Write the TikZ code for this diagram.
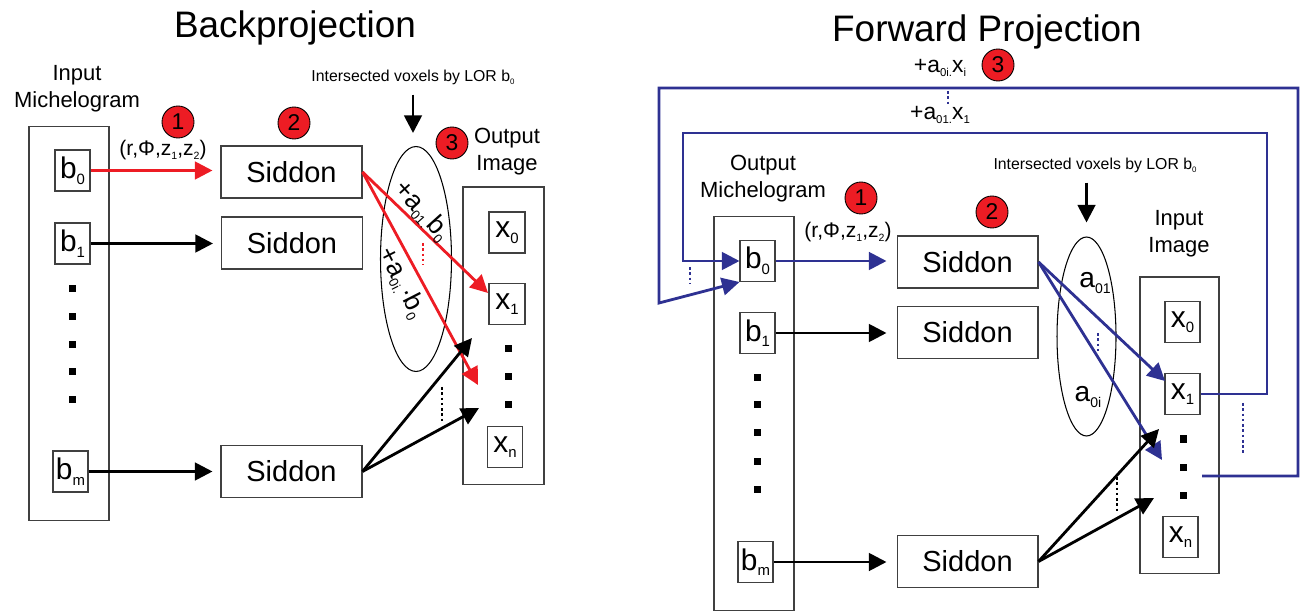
\documentclass[tikz,border=0pt]{standalone}
\usepackage{fontspec}
\setmainfont{Liberation Sans}
\usepackage{graphicx}
\usetikzlibrary{shapes.geometric,arrows.meta,positioning}

\definecolor{numred}{HTML}{ED1C24}
\definecolor{loopblue}{HTML}{2E3192}
\newcommand{\lo}[1]{\raisebox{-0.35ex}{\scalebox{0.5}{#1}}}

\tikzset{
  frame/.style={draw=black!75, line width=0.6pt},
  elem/.style={frame, minimum width=0.7cm, minimum height=0.82cm, inner sep=0pt, font=\fontsize{17}{19}\selectfont},
  sid/.style={frame, minimum width=2.82cm, minimum height=1.04cm, font=\fontsize{16.5}{19}\selectfont},
  num/.style={circle, draw=black, line width=0.5pt, fill=numred, minimum size=0.64cm, inner sep=0pt, font=\fontsize{13}{15}\selectfont},
  lab/.style={align=center, inner sep=0pt, font=\fontsize{12.5}{15.3}\selectfont},
  title/.style={inner sep=0pt, font=\fontsize{21}{24}\selectfont},
  small/.style={inner sep=0pt, font=\fontsize{9}{11}\selectfont},
  arr/.style={line width=1.6pt, -{Triangle[length=10pt,width=10pt]}},
  dotline/.style={line width=1.5pt, dash pattern=on 1.5pt off 1.5pt}
}

\begin{document}
\begin{tikzpicture}[x=0.02cm, y=-0.02cm]

\useasboundingbox (0,0) rectangle (1304,614);

%%%%%%%%%%%%%%%% Backprojection %%%%%%%%%%%%%%%%

% Title
\node[title] (bptitle) at (295,28) {Backprojection};

% Input michelogram
\node[frame, minimum width=1.6cm, minimum height=7.9cm] (mich) at (69,323.5) {};
\node[lab] (michlab) at (77,88.5) {Input\\Michelogram};
\node[elem] (b0) at (72.5,170.5) {b\lo{0}};
\node[elem] (b1) at (72.5,243.5) {b\lo{1}};
\node[elem] (bm) at (70.5,471.5) {b\lo{m}};
\foreach \y in {289,317,345,372,400}
{
    \fill (72,\y) ++(-3.5,-3.5) rectangle ++(7,7);
}

% Siddon boxes
\node[sid] (s0) at (291.5,172) {Siddon};
\node[sid] (s1) at (292,243) {Siddon};
\node[sid] (sm) at (291.5,471.5) {Siddon};

% Numbers
\node[num] (n1) at (178,122) {1};
\node[num] (n2) at (294,123) {2};
\node[num] (n3) at (452,143) {3};

% LOR coordinates
\node[inner sep=0pt, font=\fontsize{12}{14}\selectfont] (lor) at (163,150) {(r,Φ,z\lo{1},z\lo{2})};

% Michelogram to Siddon
\draw[arr, numred, shorten >=0.16cm] (b0.east) -- (b0.east -| s0.west);
\draw[arr, shorten >=0.16cm] (b1.east) -- (b1.east -| s1.west);
\draw[arr, shorten >=0.16cm] (bm.east) -- (bm.east -| sm.west);

% Intersected voxels
\node[ellipse, draw, line width=0.6pt, minimum width=1.42cm, minimum height=4.5cm, inner sep=0pt] (ell) at (416,259) {};
\node[small] (ivlab) at (413,77) {Intersected voxels by LOR b\lo{0}};
\draw[arr, shorten <=0.2cm, shorten >=0.26cm] (ivlab.south) -- (ivlab.south |- ell.north);

% Output image
\node[frame, minimum width=1.62cm, minimum height=5.96cm] (img) at (503.5,336) {};
\node[lab] (imglab) at (507,151.5) {Output\\Image};
\node[elem, minimum width=0.72cm] (x0) at (507,232.5) {x\lo{0}};
\node[elem, minimum width=0.72cm] (x1) at (507,304) {x\lo{1}};
\node[elem] (xn) at (505,447) {x\lo{n}};
\foreach \y in {349,377,405}
{
    \fill (508,\y) ++(-3.5,-3.5) rectangle ++(7,7);
}

% Siddon to image
\coordinate (r1) at (488,293);
\coordinate (r2) at (478,385);
\coordinate (k1) at (472,338);
\coordinate (k2) at (479,408);
\draw[arr, numred] (s0.east) -- (r1);
\draw[arr, numred] (s0.east) -- (r2);
\draw[arr] (sm.east) -- (k1);
\draw[arr] (sm.east) -- (k2);
\node[rotate=-48, inner sep=0pt, font=\fontsize{15}{17}\selectfont] (w1) at (422,211) {+a\lo{01.}b\lo{0}};
\node[rotate=-63, inner sep=0pt, font=\fontsize{15}{17}\selectfont] (w2) at (402,283) {+a\lo{0i.}·b\lo{0}};
\draw[dotline, numred] (423,243) -- (423,265);
\draw[dotline] (442,387) -- (442,423);

%%%%%%%%%%%%%%%% Forward projection %%%%%%%%%%%%%%%%

% Title
\node[title] (fptitle) at (987,32) {Forward Projection};

% Output michelogram
\node[frame, minimum width=1.6cm, minimum height=7.9cm] (mich2) at (754,413.5) {};
\node[lab] (michlab2) at (763,179) {Output\\Michelogram};
\node[elem] (c0) at (757.5,261) {b\lo{0}};
\node[elem] (c1) at (757.5,333) {b\lo{1}};
\node[elem] (cm) at (755.5,562) {b\lo{m}};
\foreach \y in {378,405,433,461,489}
{
    \fill (757,\y) ++(-3.5,-3.5) rectangle ++(7,7);
}

% Siddon boxes
\node[sid] (t0) at (967.5,262) {Siddon};
\node[sid] (t1) at (967.5,332.5) {Siddon};
\node[sid] (tm) at (967.5,561.5) {Siddon};

% Numbers
\node[num] (m1) at (861,198) {1};
\node[num] (m2) at (992,212) {2};
\node[num] (m3) at (998,65) {3};

% LOR coordinates
\node[inner sep=0pt, font=\fontsize{12}{14}\selectfont] (lor2) at (848,232) {(r,Φ,z\lo{1},z\lo{2})};

% Michelogram to Siddon
\draw[arr, loopblue, shorten >=0.2cm] (c0.east) -- (c0.east -| t0.west);
\draw[arr, shorten >=0.2cm] (c1.east) -- (c1.east -| t1.west);
\draw[arr, shorten >=0.2cm] (cm.east) -- (cm.east -| tm.west);

% Intersected voxels
\node[ellipse, draw, line width=0.6pt, minimum width=1.18cm, minimum height=3.98cm, inner sep=0pt] (ell2) at (1086.5,336.5) {};
\node[small] (ivlab2) at (1095,165) {Intersected voxels by LOR b\lo{0}};
\draw[arr, shorten <=0.2cm, shorten >=0.28cm] (ivlab2.south -| ell2.north) -- (ell2.north);
\node[inner sep=0pt, font=\fontsize{16}{18}\selectfont] (a1) at (1095,283) {a\lo{01}};
\node[inner sep=0pt, font=\fontsize{16}{18}\selectfont] (ai) at (1088,397) {a\lo{0i}};
\draw[dotline, loopblue] (1098,333) -- (1098,352);

% Input image
\node[frame, minimum width=1.58cm, minimum height=5.94cm] (img2) at (1179.5,425.5) {};
\node[lab] (imglab2) at (1179,233.5) {Input\\Image};
\node[elem] (y0) at (1182.5,322) {x\lo{0}};
\node[elem] (y1) at (1182.5,394) {x\lo{1}};
\node[elem] (yn) at (1180.5,537) {x\lo{n}};
\foreach \y in {439,467,495}
{
    \fill (1183,\y) ++(-3.5,-3.5) rectangle ++(7,7);
}

% Siddon to image
\coordinate (u1) at (1165,381);
\coordinate (u2) at (1162,460);
\coordinate (v1) at (1159,429);
\coordinate (v2) at (1154,498);
\draw[arr, loopblue] (t0.east) -- (u1);
\draw[arr, loopblue] (t0.east) -- (u2);
\draw[arr] (tm.east) -- (v1);
\draw[arr] (tm.east) -- (v2);
\draw[dotline] (1117,477) -- (1117,512);

% Feedback loops
\coordinate (ir) at (1267,133);
\coordinate (il) at (683,133);
\draw[arr, loopblue] (y1.east) -| (ir) -- (il) |- (c0.west);
\coordinate (os) at (1202,476);
\coordinate (or) at (1298,88);
\coordinate (ol) at (659,88);
\coordinate (ob) at (659,303);
\draw[arr, loopblue] (os) -| (or) -- (ol) -- (ob) -- (c0.south west);
\node[inner sep=0pt, font=\fontsize{13}{15}\selectfont] (sumi) at (940,68) {+a\lo{0i.}x\lo{i}};
\node[inner sep=0pt, font=\fontsize{13}{15}\selectfont] (sum1) at (940,115) {+a\lo{01.}x\lo{1}};
\draw[dotline, loopblue] (948,91) -- (948,106);
\draw[dotline, loopblue] (690,267) -- (690,283);
\draw[dotline, loopblue] (1243,403) -- (1243,455);

\end{tikzpicture}
\end{document}
